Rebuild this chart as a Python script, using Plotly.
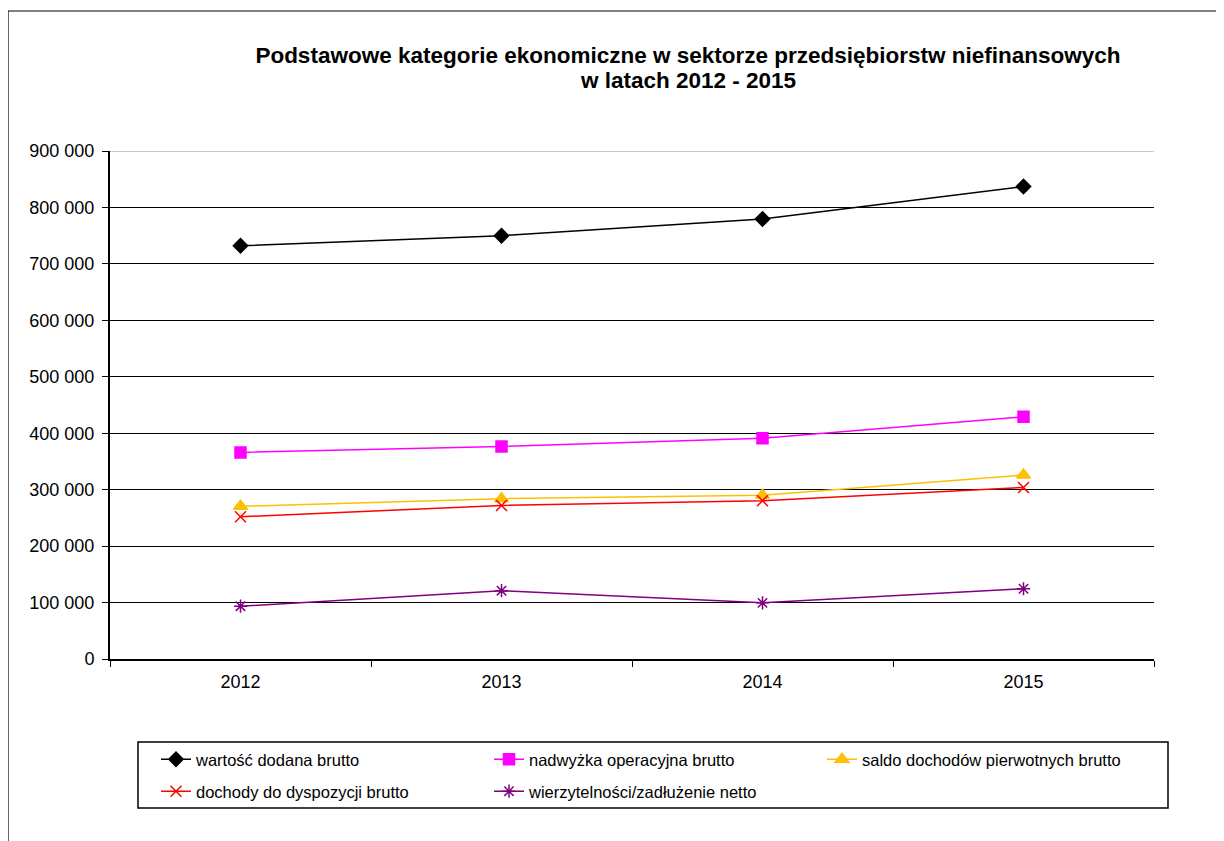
import plotly.graph_objects as go

years = ["2012", "2013", "2014", "2015"]

wartosc_dodana = [732000, 750000, 779500, 837000]
nadwyzka = [366000, 376500, 391000, 429000]
saldo = [270500, 284000, 290000, 326000]
dochody = [252000, 272000, 280500, 304000]
wierzytelnosci = [93500, 121000, 99500, 124500]

nazwy = [
    "wartość dodana brutto",
    "nadwyżka operacyjna brutto",
    "saldo dochodów pierwotnych brutto",
    "dochody do dyspozycji brutto",
    "wierzytelności/zadłużenie netto",
]
kolory = ["#000000", "#FF00FF", "#FFC000", "#FF0000", "#800080"]
symbole = ["diamond", "square", "triangle-up", "x-thin-open", "asterisk-open"]
rozmiary = [11, 11, 12, 11, 11]
legendy = ["legend", "legend", "legend", "legend2", "legend2"]
serie = [wartosc_dodana, nadwyzka, saldo, dochody, wierzytelnosci]

tytul1 = "Podstawowe kategorie ekonomiczne w sektorze przedsiębiorstw niefinansowych"
tytul2 = "w latach 2012 - 2015"

# page has an 8px body margin, so figure coords = screen coords - 8
W, H = 1224, 841
L, R, T, B = 102, 78, 143, 190
pw, ph = W - L - R, H - T - B


def px_x(x):
    return (x - L) / pw


def px_y(y):
    return (T + ph - y) / ph


fig = go.Figure()
for nazwa, kolor, sym, size, leg, vals in zip(nazwy, kolory, symbole, rozmiary, legendy, serie):
    fig.add_trace(go.Scatter(
        x=years, y=vals, name=nazwa, mode="lines+markers", legend=leg,
        line=dict(color=kolor, width=1.5),
        marker=dict(symbol=sym, size=size, color=kolor,
                    line=dict(color=kolor, width=1.5)),
    ))

leg_common = dict(orientation="h", xanchor="left", yanchor="top",
                  entrywidth=288, font=dict(size=16.5),
                  bgcolor="rgba(0,0,0,0)", borderwidth=0)

fig.update_layout(
    width=W, height=H,
    margin=dict(l=L, r=R, t=T, b=B),
    paper_bgcolor="white", plot_bgcolor="white",
    font=dict(family="Liberation Sans, Arial", size=18, color="black"),
    separators=", ",
    title=dict(
        text="<b>" + tytul1 + "</b>",
        x=680 / W, xanchor="center", y=1 - 47 / H, yanchor="middle",
        font=dict(size=22.5),
    ),
    showlegend=True,
    legend=dict(x=px_x(148), y=px_y(734), **leg_common),
    legend2=dict(x=px_x(148), y=px_y(766), **leg_common),
)
fig.add_annotation(
    text="<b>" + tytul2 + "</b>", xref="paper", yref="paper",
    x=px_x(680), y=px_y(72), xanchor="center", yanchor="middle",
    showarrow=False, font=dict(size=22.5),
)
fig.update_xaxes(
    type="category", range=[-0.5, 3.5], tickson="boundaries",
    ticks="outside", ticklen=6, tickcolor="black", tickwidth=1,
    showline=True, linecolor="black", linewidth=2,
    showgrid=False, tickfont=dict(size=18), ticklabelstandoff=5,
)
fig.update_yaxes(
    range=[0, 900000], dtick=100000, tickformat=",d",
    ticks="outside", ticklen=6, tickcolor="black",
    showline=True, linecolor="black", linewidth=2,
    showgrid=True, gridcolor="black", gridwidth=1,
    zeroline=False, tickfont=dict(size=18), ticklabelstandoff=4,
)
# top gridline is light grey in the original
fig.add_shape(type="line", xref="paper", yref="y", x0=0, x1=1,
              y0=900000, y1=900000, line=dict(color="#C8C8C8", width=2),
              layer="above")
# legend frame
fig.add_shape(type="rect", xref="paper", yref="paper",
              x0=px_x(130), x1=px_x(1160), y0=px_y(800), y1=px_y(734),
              line=dict(color="black", width=1.5), layer="below")
# chart frame
fig.add_shape(type="rect", xref="paper", yref="paper",
              x0=px_x(0), x1=px_x(W + 10), y0=px_y(H + 10), y1=px_y(3),
              line=dict(color="black", width=1.2), layer="below")

fig.write_html("out.html")
